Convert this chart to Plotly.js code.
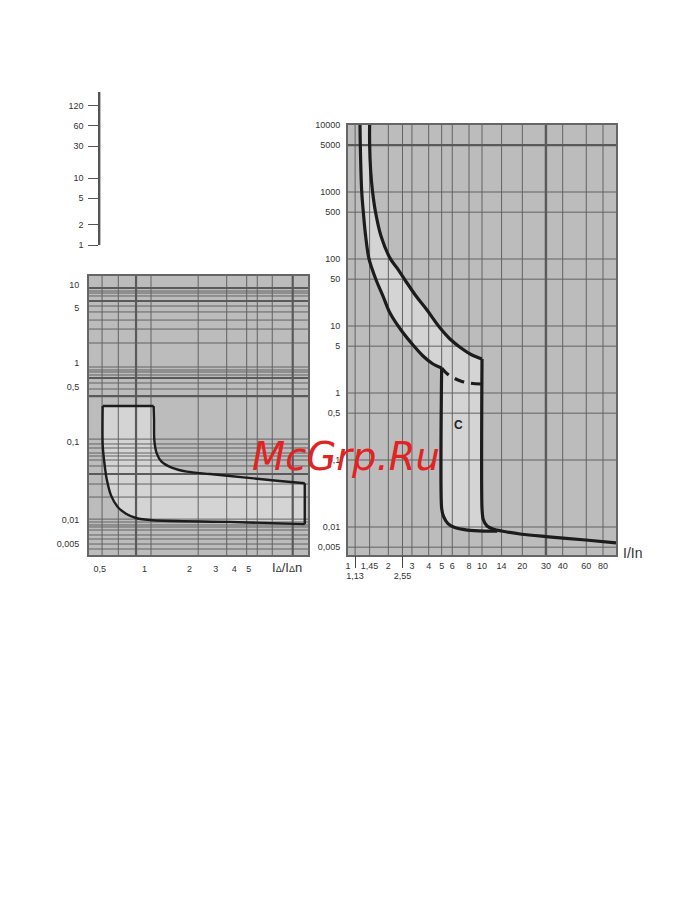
<!DOCTYPE html>
<html>
<head>
<meta charset="utf-8">
<script src="https://cdn.plot.ly/plotly-3.0.1.min.js"></script>
<style>
  html, body { margin: 0; padding: 0; background: #ffffff; }
  #chart { width: 681px; height: 908px; }
</style>
</head>
<body>
<div id="chart"></div>
<script>
// ---------- Small time scale (seconds) ----------
const SCALE_TICKS = [1, 2, 5, 10, 30, 60, 120];

// ---------- RCD tripping band: t [s] vs IΔ/IΔn ----------
const RCD_X_TICKS = [0.5, 1, 2, 3, 4, 5];
const RCD_X_TEXT  = ['0,5', '1', '2', '3', '4', '5'];
const RCD_Y_TICKS = [0.005, 0.01, 0.1, 0.5, 1, 5, 10];
const RCD_Y_TEXT  = ['0,005', '0,01', '0,1', '0,5', '1', '5', '10'];
const RCD_GRID_X      = [0.518, 0.666, 1.104, 2.29, 3.56, 4.85, 5.71, 7.2];
const RCD_GRID_X_BOLD = [0.876, 9.88];
const RCD_GRID_Y = [8.28, 7.81, 7.16, 5.33, 4.48, 3.53, 2.71, 1.80,
                    0.889, 0.814, 0.768, 0.703, 0.556, 0.466,
                    0.107, 0.0927, 0.0824, 0.0711, 0.0651, 0.0579, 0.0486, 0.0286, 0.0195,
                    0.0102, 0.00937, 0.00859, 0.0081, 0.00741, 0.0064, 0.00569, 0.00491, 0.00424];
const RCD_GRID_Y_BOLD = [9.05, 6.18, 0.644, 0.379, 0.0384];
// lower/left edge of the band (from top-left corner round to the bottom-right corner)
const RCD_LOWER_X = [0.523, 0.523, 0.536, 0.556, 0.595, 0.660, 0.750, 0.876, 1.134, 3.75, 11.9];
const RCD_LOWER_Y = [0.283, 0.090, 0.0546, 0.0334, 0.0205, 0.01456, 0.01197, 0.01054, 0.00986, 0.0094, 0.0088];
// upper/right edge of the band (from top-right corner down to the right end)
const RCD_UPPER_X = [1.15, 1.157, 1.162, 1.206, 1.30, 1.52, 1.92, 2.75, 4.6, 7.71, 11.9];
const RCD_UPPER_Y = [0.283, 0.1875, 0.104, 0.0705, 0.0551, 0.0462, 0.0411, 0.0384, 0.0348, 0.0315, 0.0292];

// ---------- MCB characteristic C: t [s] vs I/In ----------
const MCB_X_TICKS = [1, 1.45, 2, 3, 4, 5, 6, 8, 10, 14, 20, 30, 40, 60, 80];
const MCB_X_TEXT  = ['1', '1,45', '2', '3', '4', '5', '6', '8', '10', '14', '20', '30', '40', '60', '80'];
const MCB_X_TICKS_2 = [1.13, 2.55];
const MCB_X_TEXT_2  = ['1,13', '2,55'];
const MCB_Y_TICKS = [0.005, 0.01, 0.1, 0.5, 1, 5, 10, 50, 100, 500, 1000, 5000, 10000];
const MCB_Y_TEXT  = ['0,005', '0,01', '0,1', '0,5', '1', '5', '10', '50', '100', '500', '1000', '5000', '10000'];
const MCB_GRID_X      = [1.13, 1.45, 2, 2.55, 3, 4, 5, 6, 8, 10, 14, 20, 40, 60, 80];
const MCB_GRID_X_BOLD = [30];
const MCB_GRID_Y      = [0.005, 0.01, 0.1, 0.5, 1, 5, 10, 50, 100, 500, 1000];
const MCB_GRID_Y_BOLD = [5000];
// thermal release, lower limit (solid part)
const THERM_LOW_X = [1.229, 1.235, 1.265, 1.301, 1.351, 1.43, 1.505, 1.632, 1.825, 2.058, 2.486, 3.056, 3.628, 4.309, 5.0];
const THERM_LOW_Y = [10000, 5200, 1035, 503, 228, 103, 73.5, 47, 28, 15.6, 8.7, 5.2, 3.57, 2.71, 2.36];
// thermal release, lower limit inside the magnetic zone (dashed)
const THERM_DASH_X = [5.0, 5.4, 6.0, 7.0, 8.2, 10];
const THERM_DASH_Y = [2.36, 2.0, 1.72, 1.5, 1.4, 1.36];
// thermal release, upper limit
const THERM_HIGH_X = [1.45, 1.45, 1.475, 1.523, 1.604, 1.763, 2.058, 2.321, 2.664, 3.217, 3.887, 4.736, 5.769, 6.97, 8.28, 10];
const THERM_HIGH_Y = [10000, 5200, 2128, 1035, 503, 220, 103, 73.5, 48.6, 28, 17.3, 10, 6.4, 4.7, 3.76, 3.22];
// magnetic release at 5 In
const MAG_LOW_X = [5, 5, 5.17, 5.55, 6.2, 7.8, 10.4, 13];
const MAG_LOW_Y = [2.36, 0.019, 0.01425, 0.01135, 0.0099, 0.009, 0.0087, 0.0087];
// magnetic release at 10 In
const MAG_HIGH_X = [10, 10, 10.2, 10.9, 12.2, 14, 19.8, 30, 59.4, 100];
const MAG_HIGH_Y = [3.22, 0.019, 0.0131, 0.01035, 0.00925, 0.0087, 0.0078, 0.0072, 0.0064, 0.0058];

// ---------- page geometry (pixels of the 681 x 908 page) ----------
const W = 681, H = 908;
const px = v => v / W;
const py = v => 1 - v / H;

const MCB_XR = [0, 2], MCB_YR = [-2.418, 4];
const RCD_XR = [-0.3734, 1.0974], RCD_YR = [-2.449, 1.1097];

function vLines(vals, yr) {
  const x = [], y = [];
  vals.forEach(v => { x.push(v, v, null); y.push(Math.pow(10, yr[0]), Math.pow(10, yr[1]), null); });
  return { x, y };
}
function hLines(vals, xr) {
  const x = [], y = [];
  vals.forEach(v => { x.push(Math.pow(10, xr[0]), Math.pow(10, xr[1]), null); y.push(v, v, null); });
  return { x, y };
}
function gridTrace(vals, dir, xr, yr, xa, ya, width, color) {
  const g = dir === 'v' ? vLines(vals, yr) : hLines(vals, xr);
  return { type: 'scatter', mode: 'lines', x: g.x, y: g.y, xaxis: xa, yaxis: ya,
           line: { color: color, width: width }, hoverinfo: 'skip', connectgaps: false };
}
const rev = a => a.slice().reverse();

const GRID = '#626262', GRID_BOLD = '#5a5a5a', BAND = '#d4d4d4', CURVE = '#1c1c1c';

const traces = [];

// ----- RCD subplot (x3 / y3) -----
traces.push({ type: 'scatter', mode: 'lines', xaxis: 'x3', yaxis: 'y3',
  x: RCD_LOWER_X.concat(rev(RCD_UPPER_X)), y: RCD_LOWER_Y.concat(rev(RCD_UPPER_Y)),
  fill: 'toself', fillcolor: BAND, line: { width: 0 }, hoverinfo: 'skip' });
traces.push(gridTrace(RCD_GRID_X, 'v', RCD_XR, RCD_YR, 'x3', 'y3', 1, GRID));
traces.push(gridTrace(RCD_GRID_Y, 'h', RCD_XR, RCD_YR, 'x3', 'y3', 1, GRID));
traces.push(gridTrace(RCD_GRID_X_BOLD, 'v', RCD_XR, RCD_YR, 'x3', 'y3', 2.2, GRID_BOLD));
traces.push(gridTrace(RCD_GRID_Y_BOLD, 'h', RCD_XR, RCD_YR, 'x3', 'y3', 2.2, GRID_BOLD));
traces.push({ type: 'scatter', mode: 'lines', xaxis: 'x3', yaxis: 'y3', x: RCD_LOWER_X, y: RCD_LOWER_Y,
  line: { color: CURVE, width: 2.4, shape: 'spline', smoothing: 0.8 }, hoverinfo: 'skip' });
traces.push({ type: 'scatter', mode: 'lines', xaxis: 'x3', yaxis: 'y3', x: RCD_UPPER_X, y: RCD_UPPER_Y,
  line: { color: CURVE, width: 2.4, shape: 'spline', smoothing: 0.8 }, hoverinfo: 'skip' });
// closing edges: top edge and right edge of the band
traces.push({ type: 'scatter', mode: 'lines', xaxis: 'x3', yaxis: 'y3',
  x: [RCD_LOWER_X[0], RCD_UPPER_X[0], null, RCD_LOWER_X[RCD_LOWER_X.length - 1], RCD_UPPER_X[RCD_UPPER_X.length - 1]],
  y: [RCD_LOWER_Y[0], RCD_UPPER_Y[0], null, RCD_LOWER_Y[RCD_LOWER_Y.length - 1], RCD_UPPER_Y[RCD_UPPER_Y.length - 1]],
  line: { color: CURVE, width: 2.4 }, connectgaps: false, hoverinfo: 'skip' });

// ----- MCB subplot (x / y) -----
const highPart = MAG_HIGH_X.map((v, i) => [v, MAG_HIGH_Y[i]]).filter(p => p[0] <= 12.2);
traces.push({ type: 'scatter', mode: 'lines', xaxis: 'x', yaxis: 'y',
  x: THERM_LOW_X.concat(MAG_LOW_X, rev(highPart.map(p => p[0])), rev(THERM_HIGH_X)),
  y: THERM_LOW_Y.concat(MAG_LOW_Y, rev(highPart.map(p => p[1])), rev(THERM_HIGH_Y)),
  fill: 'toself', fillcolor: BAND, line: { width: 0 }, hoverinfo: 'skip' });
traces.push(gridTrace(MCB_GRID_X, 'v', MCB_XR, MCB_YR, 'x', 'y', 1, GRID));
traces.push(gridTrace(MCB_GRID_Y, 'h', MCB_XR, MCB_YR, 'x', 'y', 1, GRID));
traces.push(gridTrace(MCB_GRID_X_BOLD, 'v', MCB_XR, MCB_YR, 'x', 'y', 2.4, GRID_BOLD));
traces.push(gridTrace(MCB_GRID_Y_BOLD, 'h', MCB_XR, MCB_YR, 'x', 'y', 2.4, GRID_BOLD));
const curveStyle = { color: CURVE, width: 3.2, shape: 'spline', smoothing: 1 };
traces.push({ type: 'scatter', mode: 'lines', x: THERM_LOW_X, y: THERM_LOW_Y, line: curveStyle, hoverinfo: 'skip' });
traces.push({ type: 'scatter', mode: 'lines', x: THERM_HIGH_X, y: THERM_HIGH_Y, line: curveStyle, hoverinfo: 'skip' });
traces.push({ type: 'scatter', mode: 'lines', x: THERM_DASH_X, y: THERM_DASH_Y,
  line: { color: CURVE, width: 3.2, shape: 'spline', dash: '10px,7px' }, hoverinfo: 'skip' });
traces.push({ type: 'scatter', mode: 'lines', x: MAG_LOW_X, y: MAG_LOW_Y,
  line: { color: CURVE, width: 3.2, shape: 'spline', smoothing: 0.7 }, hoverinfo: 'skip' });
traces.push({ type: 'scatter', mode: 'lines', x: MAG_HIGH_X, y: MAG_HIGH_Y,
  line: { color: CURVE, width: 3.2, shape: 'spline', smoothing: 0.7 }, hoverinfo: 'skip' });

// second label row of the I/In axis, and the stand-alone time scale
traces.push({ type: 'scatter', mode: 'lines', x: [], y: [], xaxis: 'x2', yaxis: 'y', hoverinfo: 'skip' });
traces.push({ type: 'scatter', mode: 'lines', x: [], y: [], xaxis: 'x4', yaxis: 'y4', hoverinfo: 'skip' });

const TICKFONT = { family: 'Liberation Sans, Arial, sans-serif', size: 9, color: '#333333' };
const FRAME = '#666666';

const layout = {
  width: W, height: H,
  margin: { l: 0, r: 0, t: 0, b: 0 },
  paper_bgcolor: '#ffffff',
  plot_bgcolor: '#bcbcbc',
  showlegend: false,
  font: TICKFONT,
  xaxis: {
    domain: [px(348), px(616)], anchor: 'y', type: 'log', range: MCB_XR,
    tickvals: MCB_X_TICKS, ticktext: MCB_X_TEXT, ticks: '', ticklabelstandoff: 1,
    showgrid: false, zeroline: false, showline: true, mirror: true, linecolor: FRAME, linewidth: 2,
    tickfont: TICKFONT, fixedrange: true
  },
  xaxis2: {
    overlaying: 'x', anchor: 'y', side: 'bottom', type: 'log', range: MCB_XR,
    tickvals: MCB_X_TICKS_2, ticktext: MCB_X_TEXT_2, ticks: 'outside', ticklen: 12, tickwidth: 1,
    tickcolor: '#444444', showgrid: false, zeroline: false, showline: false, tickfont: TICKFONT, fixedrange: true
  },
  yaxis: {
    domain: [py(555), py(125)], anchor: 'x', type: 'log', range: MCB_YR,
    tickvals: MCB_Y_TICKS, ticktext: MCB_Y_TEXT, ticks: '', ticklabelstandoff: 4,
    showgrid: false, zeroline: false, showline: true, mirror: true, linecolor: FRAME, linewidth: 2,
    tickfont: TICKFONT, fixedrange: true
  },
  xaxis3: {
    domain: [px(89), px(308)], anchor: 'y3', type: 'log', range: RCD_XR,
    tickvals: RCD_X_TICKS, ticktext: RCD_X_TEXT, ticks: '', ticklabelstandoff: 4,
    showgrid: false, zeroline: false, showline: true, mirror: true, linecolor: FRAME, linewidth: 2,
    tickfont: TICKFONT, fixedrange: true
  },
  yaxis3: {
    domain: [py(555), py(276)], anchor: 'x3', type: 'log', range: RCD_YR,
    tickvals: RCD_Y_TICKS, ticktext: RCD_Y_TEXT, ticks: '', ticklabelstandoff: 6,
    showgrid: false, zeroline: false, showline: true, mirror: true, linecolor: FRAME, linewidth: 2,
    tickfont: TICKFONT, fixedrange: true
  },
  xaxis4: { domain: [px(100), px(101)], anchor: 'y4', range: [0, 1], visible: false, fixedrange: true },
  yaxis4: {
    domain: [py(245), py(92)], anchor: 'x4', type: 'log', range: [0, 2.284],
    tickvals: SCALE_TICKS, ticks: 'outside', ticklen: 10, tickwidth: 1, tickcolor: '#555555',
    ticklabelstandoff: 3, showgrid: false, zeroline: false, showline: true, linecolor: '#555555', linewidth: 1.6,
    tickfont: TICKFONT, fixedrange: true
  },
  annotations: [
    { xref: 'paper', yref: 'paper', x: px(632), y: py(553), xanchor: 'center', yanchor: 'middle',
      text: 'I/In', showarrow: false, font: { family: 'Liberation Sans, Arial, sans-serif', size: 14, color: '#333333' } },
    { xref: 'paper', yref: 'paper', x: px(287), y: py(567), xanchor: 'center', yanchor: 'middle',
      text: 'I<span style="font-size:9px">Δ</span>/I<span style="font-size:9px">Δ</span>n', showarrow: false,
      font: { family: 'Liberation Sans, Arial, sans-serif', size: 13, color: '#333333' } },
    { xref: 'paper', yref: 'paper', x: px(458), y: py(425), xanchor: 'center', yanchor: 'middle',
      text: '<b>C</b>', showarrow: false, font: { family: 'Liberation Sans, Arial, sans-serif', size: 12, color: '#222222' } },
    { xref: 'paper', yref: 'paper', x: px(346), y: py(456), xanchor: 'center', yanchor: 'middle',
      text: 'McGrp.Ru', showarrow: false,
      font: { family: 'DejaVu Sans, sans-serif', size: 38.5, color: '#e02424', style: 'italic' } }
  ]
};

Plotly.newPlot('chart', traces, layout, { staticPlot: true, displayModeBar: false });
</script>
</body>
</html>
